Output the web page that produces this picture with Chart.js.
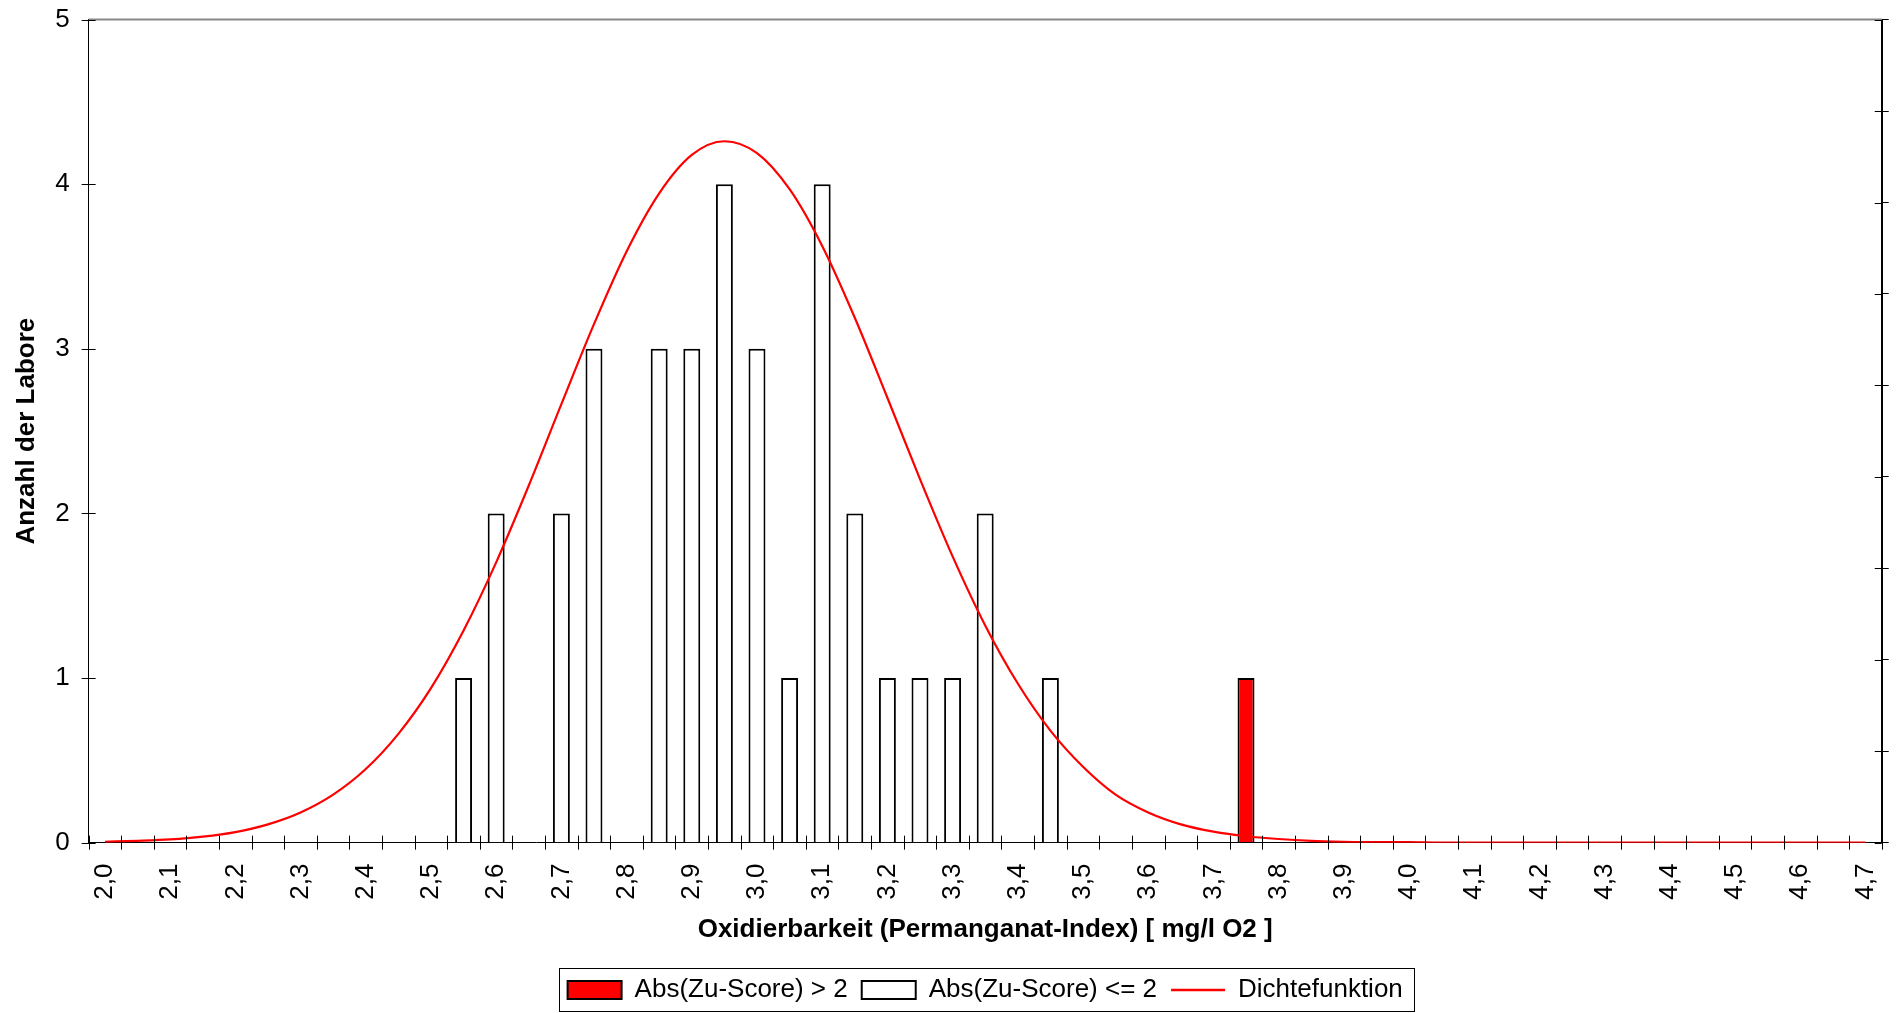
<!DOCTYPE html>
<html><head><meta charset="utf-8">
<script src="https://cdn.jsdelivr.net/npm/chart.js@4/dist/chart.umd.min.js"></script>
<style>html,body{margin:0;padding:0;background:#fff}#wrap{width:1899px;height:1013px;position:relative}</style>
</head><body><div id="wrap"><canvas id="c"></canvas></div>
<script>
const categories = ['2,00','2,05','2,10','2,15','2,20','2,25','2,30','2,35','2,40','2,45',
  '2,50','2,55','2,60','2,65','2,70','2,75','2,80','2,85','2,90','2,95',
  '3,00','3,05','3,10','3,15','3,20','3,25','3,30','3,35','3,40','3,45',
  '3,50','3,55','3,60','3,65','3,70','3,75','3,80','3,85','3,90','3,95',
  '4,00','4,05','4,10','4,15','4,20','4,25','4,30','4,35','4,40','4,45',
  '4,50','4,55','4,60','4,65','4,70'];
const xTickLabels = ['2,0','2,1','2,2','2,3','2,4','2,5','2,6','2,7','2,8','2,9',
  '3,0','3,1','3,2','3,3','3,4','3,5','3,6','3,7','3,8','3,9',
  '4,0','4,1','4,2','4,3','4,4','4,5','4,6','4,7'];
const countsOutlier = [null,null,null,null,null,null,null,null,null,null,
  null,null,null,null,null,null,null,null,null,null,
  null,null,null,null,null,null,null,null,null,null,
  null,null,null,null,null,1,null,null,null,null,
  null,null,null,null,null,null,null,null,null,null,
  null,null,null,null,null];
const countsRegular = [0,0,0,0,0,0,0,0,0,0,
  0,1,2,0,2,3,0,3,3,4,
  3,1,4,2,1,1,1,2,0,1,
  0,0,0,0,0,0,0,0,0,0,
  0,0,0,0,0,0,0,0,0,0,
  0,0,0,0,0];
const density = [0.002,0.004,0.007,0.013,0.023,0.040,0.066,0.105,0.161,0.238,
  0.338,0.464,0.613,0.781,0.959,1.134,1.293,1.420,1.504,1.534,
  1.508,1.429,1.305,1.148,0.973,0.795,0.626,0.475,0.348,0.245,
  0.166,0.105,0.066,0.040,0.024,0.014,0.008,0.004,0.002,0.001,
  0.001,0,0,0,0,0,0,0,0,0,
  0,0,0,0,0];
const seriesNames = ['Abs(Zu-Score) > 2','Abs(Zu-Score) <= 2','Dichtefunktion'];
const yTitle = 'Anzahl der Labore';
const xTitle = 'Oxidierbarkeit (Permanganat-Index) [ mg/l O2 ]';

const FONT = "'Liberation Sans', Arial, sans-serif";
const TICK = 7;
const NONE = 'rgba(0,0,0,0)';

const decorations = {
  id: 'decorations',
  afterDraw(chart) {
    const ctx = chart.ctx, a = chart.chartArea;
    const xs = chart.scales.x, ys = chart.scales.y, y2 = chart.scales.y2;
    ctx.save();
    ctx.strokeStyle = '#888';
    ctx.lineWidth = 2;
    ctx.beginPath(); ctx.moveTo(a.left, a.top); ctx.lineTo(a.right, a.top); ctx.stroke();
    ctx.strokeStyle = '#000';
    ctx.lineWidth = 1;
    ctx.beginPath();
    const step = xs.getPixelForValue(1) - xs.getPixelForValue(0);
    for (let i = 0; i <= categories.length; i++) {
      const px = Math.round(xs.getPixelForValue(0) + (i - 0.5) * step) + 0.5;
      ctx.moveTo(px, a.bottom - TICK); ctx.lineTo(px, a.bottom + TICK);
    }
    ys.ticks.forEach(t => {
      const py = Math.round(ys.getPixelForValue(t.value)) + 0.5;
      ctx.moveTo(a.left - TICK, py); ctx.lineTo(a.left + TICK, py);
    });
    y2.ticks.forEach(t => {
      const py = Math.round(y2.getPixelForValue(t.value)) + 0.5;
      ctx.moveTo(a.right, py); ctx.lineTo(a.right - TICK, py);
    });
    ctx.stroke();
    const hb = chart.legend.legendHitBoxes;
    if (hb && hb.length) {
      let l = Infinity, r = -Infinity, t = Infinity, b = -Infinity;
      hb.forEach(h => { l = Math.min(l, h.left); r = Math.max(r, h.left + h.width); t = Math.min(t, h.top); b = Math.max(b, h.top + h.height); });
      ctx.strokeStyle = '#000';
      ctx.lineWidth = 1;
      ctx.strokeRect(Math.round(l - 9) + 0.5, Math.round(t - 9) + 0.5, Math.round(r - l + 20), Math.round(b - t + 17));
    }
    ctx.restore();
  }
};

new Chart(document.getElementById('c'), {
  data: {
    labels: categories,
    datasets: [
      { type: 'bar', label: seriesNames[0], data: countsOutlier, backgroundColor: '#FF0000', borderColor: '#000',
        borderWidth: 2, barPercentage: 0.52, categoryPercentage: 1, grouped: false, yAxisID: 'y', order: 1 },
      { type: 'bar', label: seriesNames[1], data: countsRegular, backgroundColor: '#FFFFFF', borderColor: '#000',
        borderWidth: 2, barPercentage: 0.52, categoryPercentage: 1, grouped: false, yAxisID: 'y', order: 1 },
      { type: 'line', label: seriesNames[2], data: density, borderColor: '#FF0000', backgroundColor: '#FF0000',
        borderWidth: 2.2, pointRadius: 0, cubicInterpolationMode: 'monotone', yAxisID: 'y2', order: 0 }
    ]
  },
  options: {
    responsive: true, maintainAspectRatio: false, animation: false, devicePixelRatio: 1,
    layout: { padding: { left: 11, right: 0, top: 4, bottom: 0 } },
    plugins: {
      tooltip: { enabled: false },
      legend: {
        position: 'bottom', fullSize: false,
        labels: {
          font: { family: FONT, size: 26 }, color: '#000',
          usePointStyle: true, pointStyleWidth: 54, boxHeight: 18, padding: 14,
          generateLabels(chart) {
            const items = Chart.defaults.plugins.legend.labels.generateLabels(chart);
            items.forEach(it => {
              if (it.datasetIndex === 2) { it.pointStyle = 'line'; it.lineWidth = 2.5; }
              else { it.pointStyle = 'rect'; it.lineWidth = 2; }
            });
            return items;
          },
          sort: (a, b) => a.datasetIndex - b.datasetIndex
        }
      }
    },
    scales: {
      x: {
        type: 'category',
        grid: { display: true, drawOnChartArea: false, drawTicks: true, tickLength: TICK, tickColor: NONE, color: NONE, offset: true },
        border: { display: true, color: '#000', width: 1 },
        ticks: {
          autoSkip: false, minRotation: 90, maxRotation: 90, padding: 14,
          font: { family: FONT, size: 26, lineHeight: 0.75 }, color: '#000',
          callback: (v, i) => (i % 2 === 0 ? xTickLabels[i / 2] : '')
        },
        title: { display: true, text: xTitle, font: { family: FONT, size: 26, weight: 'bold' }, color: '#000', padding: { top: 0, bottom: 18 } }
      },
      y: {
        position: 'left', min: 0, max: 5,
        grid: { drawOnChartArea: false, tickLength: 15, tickColor: NONE, color: NONE },
        border: { display: true, color: '#000', width: 1 },
        ticks: { stepSize: 1, padding: 4, font: { family: FONT, size: 26 }, color: '#000' },
        title: { display: true, text: yTitle, font: { family: FONT, size: 26, weight: 'bold' }, color: '#000', padding: { top: 0, bottom: 9 } }
      },
      y2: {
        position: 'right', min: 0, max: 1.8,
        grid: { drawOnChartArea: false, tickLength: TICK, color: '#000' },
        border: { display: true, color: '#000', width: 2 },
        ticks: { display: false, stepSize: 0.2 }
      }
    }
  },
  plugins: [decorations]
});
</script></body></html>
